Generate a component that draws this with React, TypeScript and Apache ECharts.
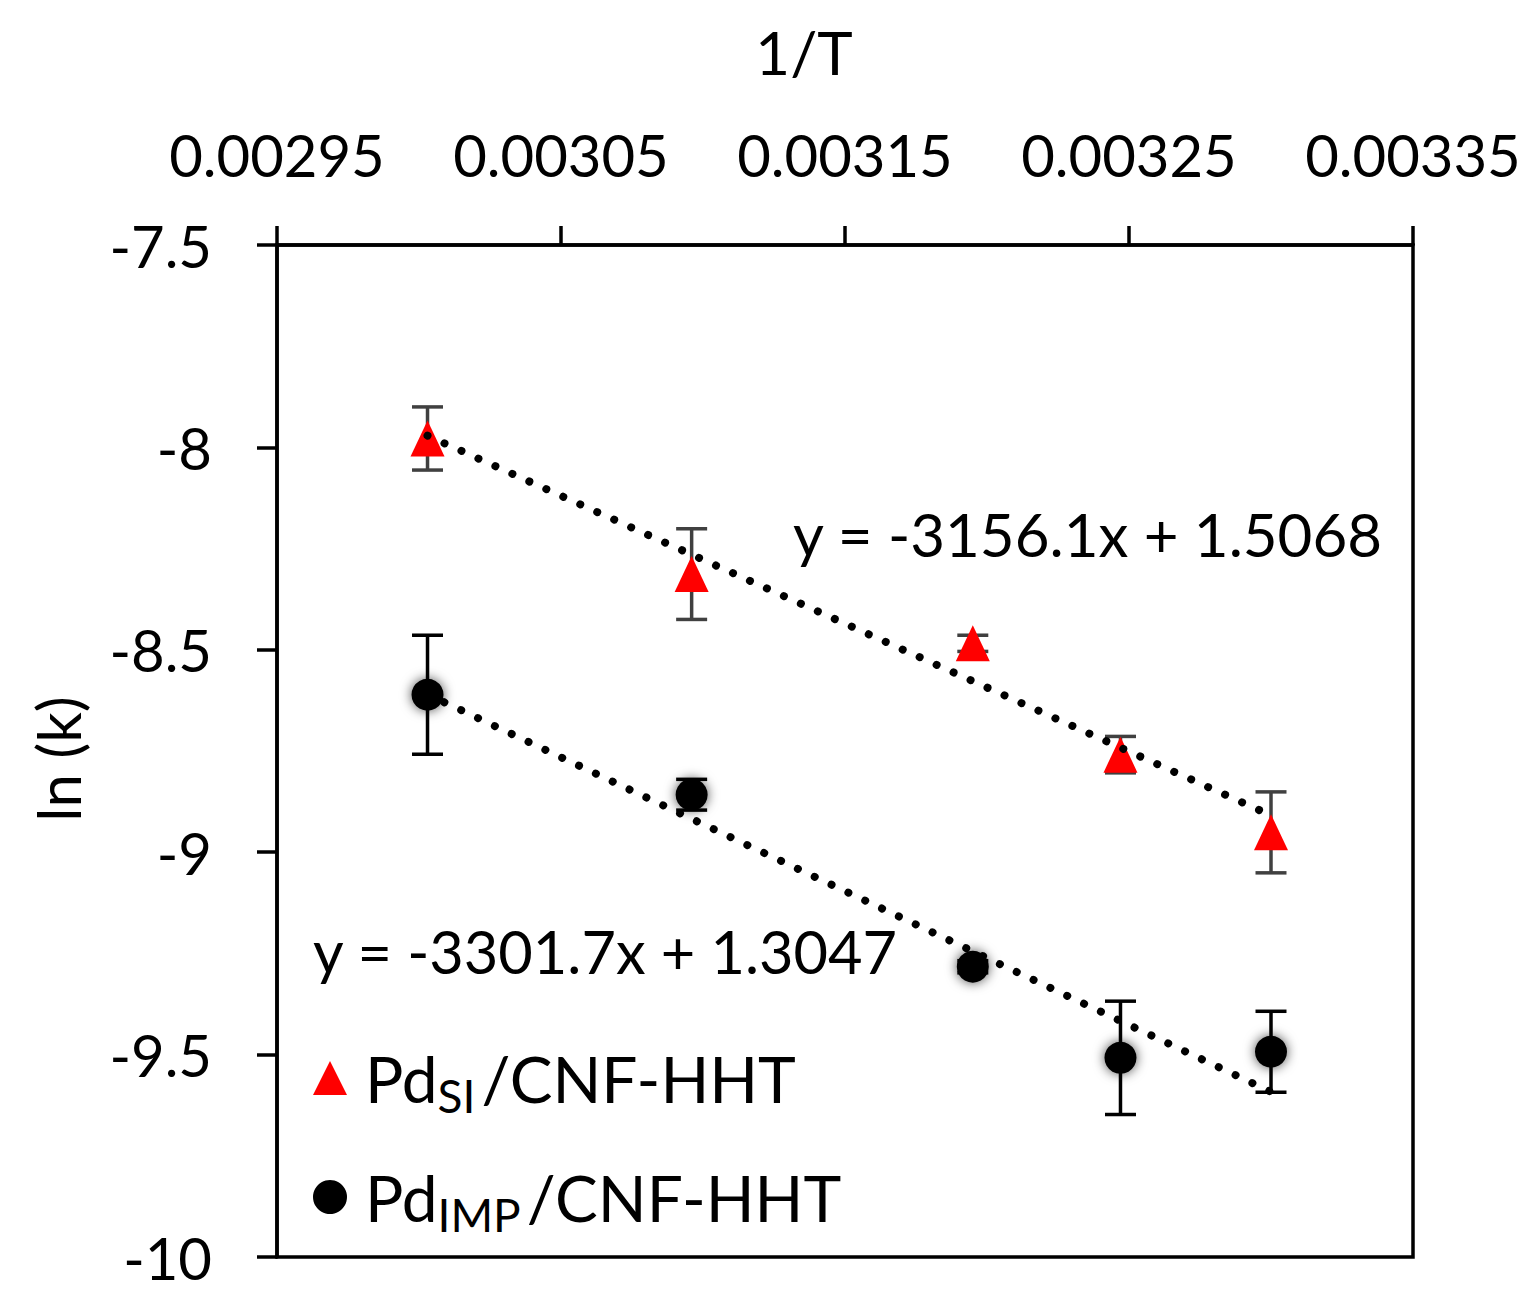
import React, { useEffect, useRef } from "react";
import * as echarts from "echarts";

// ---- data ----
const invT = [0.003003, 0.003096, 0.003195, 0.003247, 0.0033];
const siLnK = [-7.978, -8.313, -8.484, -8.759, -8.951];
const siErr = [0.078, 0.112, 0.02, 0.045, 0.1];
const impLnK = [-8.611, -8.858, -9.283, -9.508, -9.493];
const impErr = [0.147, 0.038, 0.015, 0.14, 0.1];

const siTrendX = [0.003003, 0.0033];
const siTrendY = [-7.971, -8.909];
const impTrendX = [0.003003, 0.0033];
const impTrendY = [-8.61, -9.592];

const xTickLabels = ["0.00295", "0.00305", "0.00315", "0.00325", "0.00335"];
const yTickLabels = ["-10", "-9.5", "-9", "-8.5", "-8", "-7.5"];

const siEquation = "y = -3156.1x + 1.5068";
const impEquation = "y = -3301.7x + 1.3047";
const xTitle = "1/T";
const yTitle = "ln (k)";

const FONT = 'Lato, "Open Sans", sans-serif';

function errorBarRender(color: string) {
  return (params: any, api: any) => {
    const x = api.value(0);
    const top = api.coord([x, api.value(2)]);
    const bot = api.coord([x, api.value(1)]);
    const hw = 15.5;
    const style = { stroke: color, lineWidth: 3.5, fill: "none" };
    return {
      type: "group",
      children: [
        { type: "line", shape: { x1: top[0], y1: top[1], x2: bot[0], y2: bot[1] }, style },
        { type: "line", shape: { x1: top[0] - hw, y1: top[1], x2: top[0] + hw, y2: top[1] }, style },
        { type: "line", shape: { x1: bot[0] - hw, y1: bot[1], x2: bot[0] + hw, y2: bot[1] }, style },
      ],
    };
  };
}

export default function App() {
  const ref = useRef<HTMLDivElement>(null);
  useEffect(() => {
    const chart = echarts.init(ref.current!, null, { renderer: "svg" });
    const legendText: Record<string, string> = {
      SI: "{p|Pd}{s|SI}{m|/CNF-HHT}",
      IMP: "{p|Pd}{s|IMP}{m|/CNF-HHT}",
    };
    const option: any = {
      animation: false,
      backgroundColor: "#fff",
      textStyle: { fontFamily: FONT, color: "#000" },
      grid: {
        left: 277,
        top: 245,
        right: 116,
        bottom: 33,
        show: true,
        borderColor: "#000",
        borderWidth: 3.5,
        outerBoundsMode: "none",
        containLabel: false,
      },
      xAxis: {
        type: "value",
        position: "top",
        min: 0.00295,
        max: 0.00335,
        interval: 0.0001,
        splitLine: { show: false },
        axisLine: { show: true, lineStyle: { color: "#000", width: 3.5 } },
        axisTick: { show: true, inside: false, length: 19, lineStyle: { color: "#000", width: 3.5 } },
        axisLabel: {
          margin: 62,
          fontSize: 58,
          fontFamily: FONT,
          color: "#000",
          formatter: (_v: number, i: number) => xTickLabels[i],
        },
      },
      yAxis: {
        type: "value",
        min: -10,
        max: -7.5,
        interval: 0.5,
        splitLine: { show: false },
        axisLine: { show: true, onZero: false, lineStyle: { color: "#000", width: 3.5 } },
        axisTick: { show: true, inside: false, length: 20, lineStyle: { color: "#000", width: 3.5 } },
        axisLabel: {
          margin: 65,
          fontSize: 58,
          fontFamily: FONT,
          color: "#000",
          formatter: (_v: number, i: number) => yTickLabels[i],
        },
      },
      legend: {
        left: 313,
        top: 1046,
        orient: "vertical",
        padding: 0,
        itemGap: 47,
        itemWidth: 34,
        itemHeight: 34,
        selectedMode: false,
        data: [
          { name: "SI", icon: "triangle" },
          { name: "IMP", icon: "circle" },
        ],
        formatter: (name: string) => legendText[name],
        textStyle: {
          fontFamily: FONT,
          color: "#000",
          rich: {
            p: { fontSize: 64, lineHeight: 80, fontFamily: FONT, color: "#000", padding: [0, 0, 0, 13] },
            m: { fontSize: 64, lineHeight: 80, fontFamily: FONT, color: "#000", padding: [0, 0, 0, 6] },
            s: { fontSize: 46, lineHeight: 28, verticalAlign: "bottom", fontFamily: FONT, color: "#000" },
          },
        },
      },
      graphic: [
        {
          type: "text",
          x: 804,
          y: 52,
          style: { text: xTitle, font: `60px ${FONT}`, fill: "#000", align: "center", verticalAlign: "middle" },
        },
        {
          type: "text",
          x: 58,
          y: 759,
          rotation: Math.PI / 2,
          style: { text: yTitle, font: `60px ${FONT}`, fill: "#000", align: "center", verticalAlign: "middle" },
        },
        {
          type: "text",
          x: 793,
          y: 534,
          z: 10,
          style: { text: siEquation, font: `60px ${FONT}`, fill: "#000", align: "left", verticalAlign: "middle" },
        },
        {
          type: "text",
          x: 313,
          y: 951,
          z: 10,
          style: { text: impEquation, font: `59.5px ${FONT}`, fill: "#000", align: "left", verticalAlign: "middle" },
        },
      ],
      series: [
        {
          name: "SI-err",
          type: "custom",
          z: 1,
          silent: true,
          renderItem: errorBarRender("#404040"),
          encode: { x: 0, y: [1, 2] },
          data: invT.map((x, i) => [x, siLnK[i] - siErr[i], siLnK[i] + siErr[i]]),
        },
        {
          name: "IMP-err",
          type: "custom",
          z: 1,
          silent: true,
          renderItem: errorBarRender("#000"),
          encode: { x: 0, y: [1, 2] },
          data: invT.map((x, i) => [x, impLnK[i] - impErr[i], impLnK[i] + impErr[i]]),
        },
        {
          name: "SI",
          type: "scatter",
          z: 2,
          symbol: "triangle",
          symbolSize: [34, 36],
          itemStyle: { color: "#ff0000", opacity: 1 },
          emphasis: { disabled: true },
          data: invT.map((x, i) => [x, siLnK[i]]),
        },
        {
          name: "IMP",
          type: "scatter",
          z: 2,
          symbol: "circle",
          symbolSize: 32,
          itemStyle: { color: "#000", opacity: 1, shadowBlur: 12, shadowColor: "rgba(0,0,0,0.7)" },
          emphasis: { disabled: true },
          data: invT.map((x, i) => [x, impLnK[i]]),
        },
        {
          name: "SI-trend",
          type: "line",
          z: 3,
          silent: true,
          symbol: "none",
          lineStyle: { color: "#000", width: 8, type: [0.01, 18.6], cap: "round" },
          data: siTrendX.map((x, i) => [x, siTrendY[i]]),
        },
        {
          name: "IMP-trend",
          type: "line",
          z: 3,
          silent: true,
          symbol: "none",
          lineStyle: { color: "#000", width: 8, type: [0.01, 18.6], cap: "round" },
          data: impTrendX.map((x, i) => [x, impTrendY[i]]),
        },
      ],
    };
    chart.setOption(option);
    return () => chart.dispose();
  }, []);
  return (
    <div
      ref={ref}
      style={{ position: "absolute", left: 0, top: 0, width: 1529, height: 1290, background: "#fff" }}
    />
  );
}
